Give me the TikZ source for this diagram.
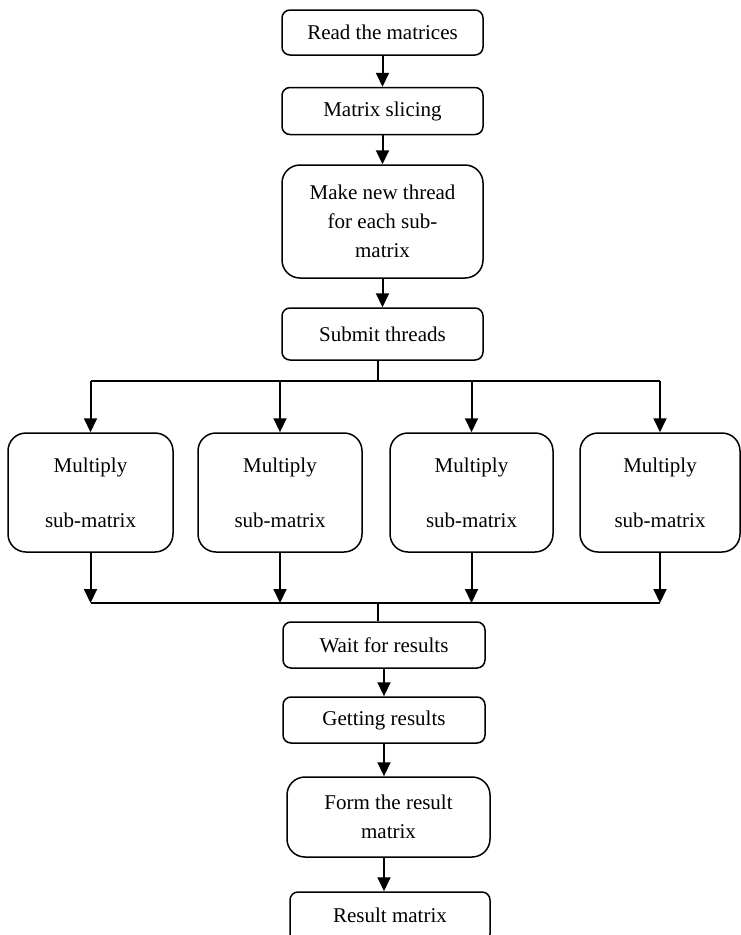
\documentclass[tikz,border=0pt]{standalone}
\usepackage{fontspec}
\setmainfont{Liberation Serif}
\usetikzlibrary{arrows.meta}
\begin{document}
\begin{tikzpicture}[x=1pt,y=-1pt]
\tikzstyle{step box} = [rectangle, draw=black, line width=1.5pt, rounded corners=8pt, inner sep=0pt, align=center, font=\fontsize{21}{29}\selectfont]
\tikzstyle{big box} = [step box, rounded corners=18pt]
\tikzstyle{flow} = [draw=black, line width=2pt]
\tikzstyle{arrow} = [flow, -{Triangle[length=14pt,width=13pt]}]

\useasboundingbox (0,0) rectangle (741,935);

\node[step box, minimum width=201pt, minimum height=45pt] (read) at (382.5,32.5) {Read the matrices};
\node[step box, minimum width=201pt, minimum height=47pt] (slice) at (382.5,111) {Matrix slicing};
\node[big box, minimum width=201pt, minimum height=113pt] (thread) at (382.5,221.5) {Make new thread\\for each sub-\\matrix};
\node[step box, minimum width=201pt, minimum height=52pt] (submit) at (382.5,334) {Submit threads};

\node[big box, minimum width=165pt, minimum height=119pt] (m1) at (90.5,492.5) {Multiply\\[26pt]sub-matrix};
\node[big box, minimum width=164pt, minimum height=119pt] (m2) at (280,492.5) {Multiply\\[26pt]sub-matrix};
\node[big box, minimum width=163pt, minimum height=119pt] (m3) at (471.5,492.5) {Multiply\\[26pt]sub-matrix};
\node[big box, minimum width=160pt, minimum height=119pt] (m4) at (660,492.5) {Multiply\\[26pt]sub-matrix};

\node[step box, minimum width=202pt, minimum height=46pt] (wait) at (384,645) {Wait for results};
\node[step box, minimum width=202pt, minimum height=46pt] (get) at (384,720) {Getting results};
\node[big box, minimum width=203pt, minimum height=80pt] (form) at (388.5,817) {Form the result\\matrix};
\node[step box, minimum width=200pt, minimum height=50pt] (result) at (390,917) {\raisebox{3pt}{Result matrix}};

\coordinate (split) at (378,381);
\coordinate (join) at (378,603);

\draw[arrow] (read) -- (slice);
\draw[arrow] (slice) -- (thread);
\draw[arrow] (thread) -- (submit);
\draw[flow] (submit.south -| split) -- (split);
\draw[flow] (m1.north |- split) -- (m4.north |- split);
\draw[flow] (m1.south |- join) -- (m4.south |- join);
\draw[flow] (join) -- (wait.north -| join);
\foreach \m in {m1,m2,m3,m4} {
  \draw[arrow] (\m.north |- split) -- (\m);
  \draw[arrow] (\m) -- (\m.south |- join);
}
\draw[arrow] (wait) -- (get);
\draw[arrow] (get.south) -- (get.south |- form.north);
\draw[arrow] (get.south |- form.south) -- (get.south |- result.north);
\end{tikzpicture}
\end{document}
